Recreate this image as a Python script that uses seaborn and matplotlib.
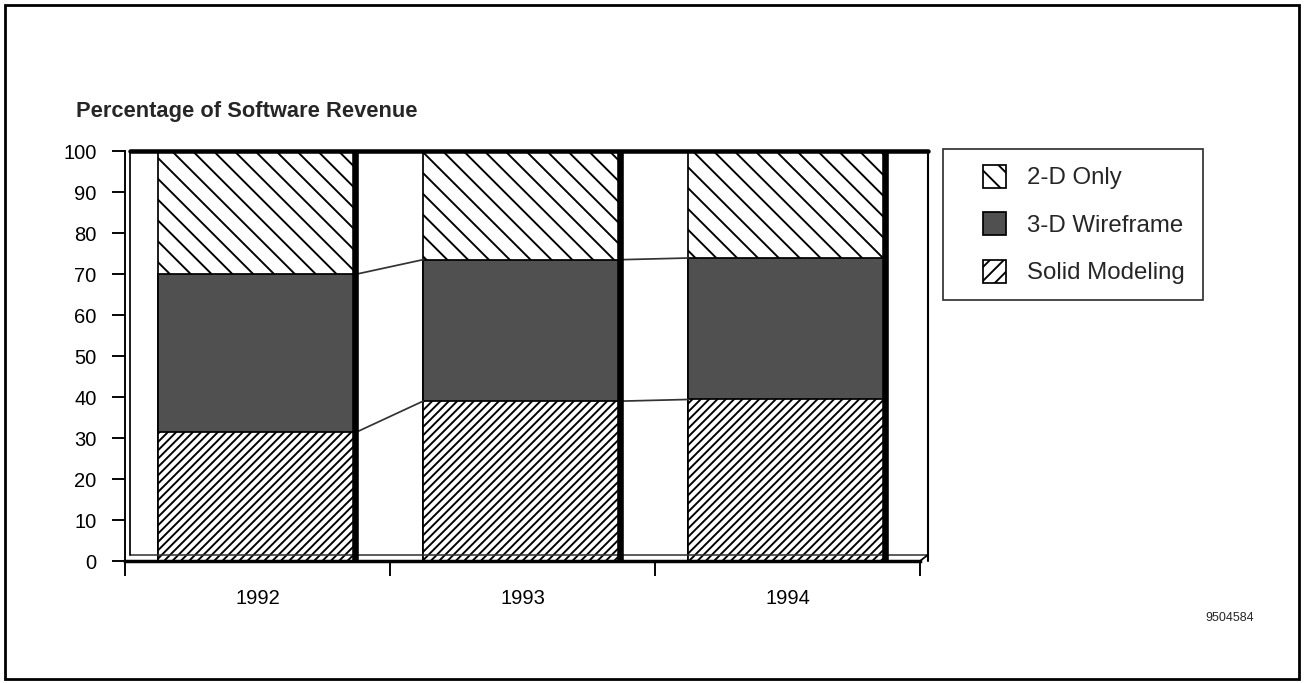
import matplotlib
matplotlib.use("Agg")
import matplotlib.pyplot as plt
from matplotlib.patches import Patch, Rectangle
from matplotlib.legend_handler import HandlerPatch
import numpy as np
import pandas as pd
import seaborn as sns

# Share of software revenue by product type (percent)
years = ["1992", "1993", "1994"]
solid_modeling = [31.5, 39.0, 39.4]
wireframe_3d = [38.5, 34.5, 34.5]
only_2d = [30.0, 26.5, 26.1]
series_names = ["2-D Only", "3-D Wireframe", "Solid Modeling"]
y_ticks = [0, 10, 20, 30, 40, 50, 60, 70, 80, 90, 100]
doc_id = "9504584"

sns.set_theme(style="white")
plt.rcParams["font.family"] = ["Liberation Sans", "DejaVu Sans"]
plt.rcParams["hatch.linewidth"] = 1.1

df = pd.DataFrame({
    "year": years,
    "solid": solid_modeling,
    "wire": wireframe_3d,
    "flat": only_2d,
})
df["cum_wire"] = df["solid"] + df["wire"]
df["cum_all"] = df["cum_wire"] + df["flat"]

DPI = 125
fig = plt.figure(figsize=(1304 / DPI, 683 / DPI), dpi=DPI)
ax = fig.add_axes([0.0959, 0.1786, 0.6096, 0.6003])

bar_w = 0.75
styles = {
    "2-D Only": dict(facecolor="white", hatch="\\\\"),
    "3-D Wireframe": dict(facecolor="#505050", hatch=""),
    "Solid Modeling": dict(facecolor="white", hatch="/////"),
}

# stacked bars: draw cumulative totals from the top layer down
for col, name in [("cum_all", "2-D Only"), ("cum_wire", "3-D Wireframe"), ("solid", "Solid Modeling")]:
    sns.barplot(data=df, x="year", y=col, ax=ax, width=bar_w, errorbar=None,
                color=styles[name]["facecolor"], edgecolor="black", linewidth=1.0,
                hatch=styles[name]["hatch"], saturation=1)
    for p in ax.patches[-len(years):]:
        p.set_facecolor(styles[name]["facecolor"])

xpos = np.arange(len(years))
# heavy shadow on the right side of every bar
ax.vlines(xpos + bar_w / 2 - 0.006, 0, df["cum_all"], color="black", lw=3.8, zorder=5)

# connector lines between neighbouring bars
for i in range(len(years) - 1):
    for col in ["solid", "cum_wire"]:
        ax.plot([i + bar_w / 2, i + 1 - bar_w / 2], [df[col][i], df[col][i + 1]],
                color="#333333", lw=1.0, zorder=4)

# back wall and floor of the chart box
wall_l, wall_r = -0.48, 2.53
ax.plot([wall_l, wall_l], [1.5, 100], color="black", lw=1.0, clip_on=False, zorder=3)
ax.plot([wall_r, wall_r], [0, 100], color="black", lw=1.2, clip_on=False, zorder=3)
ax.plot([wall_l, wall_r], [100, 100], color="black", lw=2.6, clip_on=False, zorder=6)
ax.plot([wall_l, wall_r], [1.5, 1.5], color="#333333", lw=0.9, clip_on=False, zorder=1)
ax.plot([2.5, wall_r], [0, 1.5], color="black", lw=1.0, clip_on=False, zorder=3)

ax.set_xlim(-0.5, 2.5)
ax.set_ylim(0, 100)
ax.set_yticks(y_ticks)
ax.set_yticklabels([str(t) for t in y_ticks])
ax.set_xticks(xpos)
ax.set_xticklabels(years)
ax.set_xticks([-0.5, 0.5, 1.5, 2.5], minor=True)
ax.tick_params(axis="x", which="major", length=0, pad=16, labelsize=11.6, colors="black")
ax.tick_params(axis="x", which="minor", length=8.5, width=1.1, direction="out", color="black", bottom=True)
ax.tick_params(axis="y", length=7.5, width=1.1, direction="out", pad=9, labelsize=11.6,
               colors="black", left=True)
ax.set_xlabel("")
ax.set_ylabel("")

for s in ["top", "right"]:
    ax.spines[s].set_visible(False)
ax.spines["left"].set_color("black")
ax.spines["left"].set_linewidth(1.1)
ax.spines["bottom"].set_color("black")
ax.spines["bottom"].set_linewidth(2.0)

fig.text(76 / 1304, 1 - 111 / 683, "Percentage of Software Revenue",
         fontsize=12.6, fontweight="bold", ha="left", va="center")
fig.text(1230 / 1304, 1 - 618 / 683, doc_id, fontsize=7.2, ha="center", va="center")


# legend keys: a square swatch sitting at the right end of the handle slot
def square_key(legend, orig_handle, xdescent, ydescent, width, height, fontsize):
    side = height
    return Rectangle((width - side - xdescent, -ydescent), side, side)


handles = [Patch(facecolor=styles[n]["facecolor"], hatch=styles[n]["hatch"].replace("/////", "///"),
                 edgecolor="black", linewidth=1.0, label=n) for n in series_names]
leg_fs = 13.8
leg = fig.legend(handles=handles, loc="upper left",
                 bbox_to_anchor=(943 / 1304, 1 - 303 / 683, (1203 - 943) / 1304, (303 - 149) / 683),
                 mode="expand", frameon=True, fancybox=False, fontsize=leg_fs,
                 handlelength=2.0, handleheight=1.12, handletextpad=0.85,
                 labelspacing=0.95, borderpad=0.65, borderaxespad=0,
                 handler_map={Patch: HandlerPatch(patch_func=square_key)})
leg.get_frame().set_edgecolor("black")
leg.get_frame().set_linewidth(1.0)

# outer frame around the whole graphic
fig.patches.append(Rectangle((5 / 1304, 4 / 683), 1294 / 1304, 674 / 683,
                             transform=fig.transFigure, fill=False,
                             edgecolor="black", linewidth=1.6))

fig.savefig("out.png", dpi=DPI, facecolor="white")
